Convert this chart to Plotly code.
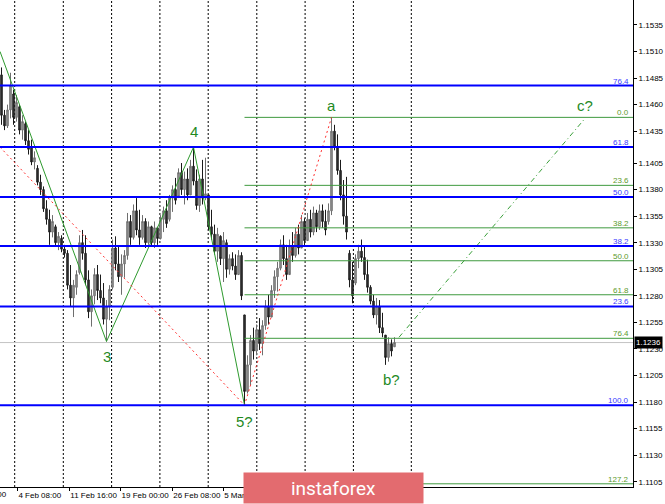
import plotly.graph_objects as go

# H4 bars (oldest first)
bar_open = [
    1.1488, 1.1450, 1.1440, 1.1455, 1.1470, 1.1448, 1.1458, 1.1436, 1.1442, 1.1426,
    1.1420, 1.1406, 1.1400, 1.1387, 1.1380, 1.1362, 1.1352, 1.1340, 1.1345, 1.1330,
    1.1334, 1.1324, 1.1320, 1.1290, 1.1278, 1.1288, 1.1302, 1.1330, 1.1320, 1.1295,
    1.1265, 1.1280, 1.1300, 1.1285, 1.1278, 1.1258, 1.1270, 1.1288, 1.1325, 1.1310,
    1.1298, 1.1310, 1.1318, 1.1350, 1.1335, 1.1360, 1.1342, 1.1335, 1.1350, 1.1330,
    1.1345, 1.1330, 1.1344, 1.1334, 1.1352, 1.1360, 1.1352, 1.1372, 1.1380, 1.1374,
    1.1396, 1.1380, 1.1390, 1.1375, 1.1402, 1.1388, 1.1365, 1.1390, 1.1372, 1.1375,
    1.1345, 1.1338, 1.1322, 1.1336, 1.1315, 1.1330, 1.1305, 1.1315, 1.1308, 1.1300,
    1.1318, 1.1262, 1.1190, 1.1215, 1.1238, 1.1228, 1.1248, 1.1235, 1.1252, 1.1270,
    1.1260, 1.1285, 1.1298, 1.1306, 1.1328, 1.1315, 1.1300, 1.1326, 1.1318, 1.1338,
    1.1325, 1.1350, 1.1332, 1.1352, 1.1340, 1.1358, 1.1345, 1.1360, 1.1350, 1.1350,
    1.1360, 1.1435, 1.1420, 1.1398, 1.1375, 1.1355, 1.1320, 1.1295, 1.1292, 1.1315,
    1.1322, 1.1316, 1.1300, 1.1288, 1.1275, 1.1262, 1.1270, 1.1250, 1.1243, 1.1222,
    1.1235, 1.1232,
]
bar_high = [
    1.1495, 1.1455, 1.1460, 1.1490, 1.1474, 1.1469, 1.1460, 1.1450, 1.1444, 1.1436,
    1.1427, 1.1416, 1.1403, 1.1394, 1.1383, 1.1370, 1.1361, 1.1356, 1.1347, 1.1340,
    1.1337, 1.1328, 1.1323, 1.1309, 1.1295, 1.1304, 1.1337, 1.1342, 1.1337, 1.1304,
    1.1286, 1.1306, 1.1309, 1.1300, 1.1292, 1.1276, 1.1290, 1.1333, 1.1336, 1.1326,
    1.1319, 1.1323, 1.1358, 1.1356, 1.1366, 1.1372, 1.1361, 1.1356, 1.1353, 1.1350,
    1.1346, 1.1350, 1.1345, 1.1356, 1.1364, 1.1370, 1.1375, 1.1384, 1.1391, 1.1400,
    1.1405, 1.1397, 1.1400, 1.1408, 1.1420, 1.1399, 1.1394, 1.1408, 1.1410, 1.1375,
    1.1361, 1.1347, 1.1344, 1.1337, 1.1340, 1.1333, 1.1319, 1.1321, 1.1319, 1.1323,
    1.1321, 1.1262, 1.1224, 1.1243, 1.1250, 1.1253, 1.1259, 1.1257, 1.1276, 1.1281,
    1.1290, 1.1304, 1.1312, 1.1333, 1.1337, 1.1328, 1.1333, 1.1340, 1.1344, 1.1347,
    1.1356, 1.1353, 1.1358, 1.1361, 1.1364, 1.1361, 1.1366, 1.1366, 1.1361, 1.1367,
    1.1448, 1.1441, 1.1432, 1.1408, 1.1389, 1.1392, 1.1323, 1.1312, 1.1319, 1.1328,
    1.1333, 1.1326, 1.1314, 1.1290, 1.1281, 1.1278, 1.1276, 1.1264, 1.1243, 1.1241,
    1.1239, 1.1241,
]
bar_low = [
    1.1441, 1.1436, 1.1438, 1.1447, 1.1441, 1.1444, 1.1432, 1.1427, 1.1422, 1.1413,
    1.1403, 1.1399, 1.1384, 1.1375, 1.1359, 1.1347, 1.1328, 1.1335, 1.1326, 1.1323,
    1.1321, 1.1316, 1.1286, 1.1270, 1.1260, 1.1281, 1.1300, 1.1314, 1.1290, 1.1259,
    1.1251, 1.1272, 1.1276, 1.1273, 1.1253, 1.1237, 1.1257, 1.1286, 1.1304, 1.1293,
    1.1281, 1.1297, 1.1314, 1.1328, 1.1333, 1.1337, 1.1328, 1.1333, 1.1325, 1.1328,
    1.1326, 1.1325, 1.1328, 1.1333, 1.1340, 1.1344, 1.1350, 1.1359, 1.1366, 1.1372,
    1.1375, 1.1366, 1.1370, 1.1375, 1.1384, 1.1361, 1.1359, 1.1366, 1.1370, 1.1342,
    1.1333, 1.1319, 1.1312, 1.1309, 1.1293, 1.1297, 1.1300, 1.1304, 1.1295, 1.1300,
    1.1276, 1.1177, 1.1188, 1.1196, 1.1220, 1.1224, 1.1229, 1.1224, 1.1248, 1.1253,
    1.1262, 1.1278, 1.1284, 1.1304, 1.1309, 1.1295, 1.1303, 1.1312, 1.1316, 1.1319,
    1.1328, 1.1326, 1.1333, 1.1335, 1.1337, 1.1340, 1.1342, 1.1344, 1.1337, 1.1347,
    1.1356, 1.1417, 1.1394, 1.1370, 1.1347, 1.1333, 1.1288, 1.1273, 1.1290, 1.1306,
    1.1312, 1.1295, 1.1283, 1.1272, 1.1259, 1.1253, 1.1245, 1.1241, 1.1215, 1.1218,
    1.1223, 1.1232,
]
bar_close = [
    1.1450, 1.1440, 1.1455, 1.1478, 1.1448, 1.1462, 1.1436, 1.1444, 1.1426, 1.1418,
    1.1406, 1.1410, 1.1387, 1.1380, 1.1362, 1.1352, 1.1340, 1.1350, 1.1330, 1.1336,
    1.1324, 1.1320, 1.1290, 1.1278, 1.1290, 1.1300, 1.1330, 1.1320, 1.1295, 1.1265,
    1.1280, 1.1300, 1.1285, 1.1278, 1.1258, 1.1270, 1.1286, 1.1325, 1.1310, 1.1298,
    1.1310, 1.1318, 1.1350, 1.1335, 1.1360, 1.1342, 1.1335, 1.1350, 1.1330, 1.1345,
    1.1330, 1.1344, 1.1334, 1.1352, 1.1360, 1.1348, 1.1372, 1.1380, 1.1370, 1.1396,
    1.1380, 1.1390, 1.1375, 1.1402, 1.1388, 1.1365, 1.1390, 1.1372, 1.1376, 1.1345,
    1.1338, 1.1322, 1.1338, 1.1315, 1.1332, 1.1305, 1.1315, 1.1308, 1.1300, 1.1318,
    1.1280, 1.1190, 1.1215, 1.1238, 1.1228, 1.1248, 1.1235, 1.1252, 1.1270, 1.1260,
    1.1285, 1.1298, 1.1306, 1.1328, 1.1315, 1.1300, 1.1326, 1.1318, 1.1338, 1.1325,
    1.1350, 1.1332, 1.1352, 1.1340, 1.1358, 1.1345, 1.1360, 1.1350, 1.1342, 1.1360,
    1.1435, 1.1420, 1.1398, 1.1375, 1.1355, 1.1340, 1.1295, 1.1280, 1.1315, 1.1322,
    1.1316, 1.1300, 1.1288, 1.1275, 1.1262, 1.1270, 1.1250, 1.1245, 1.1222, 1.1235,
    1.1228, 1.1236,
]
bar_x = list(range(len(bar_open)))
last_price = 1.1236

# price scale on the right
price_ticks = [1.1105, 1.1130, 1.1155, 1.1180, 1.1205, 1.1230, 1.1255, 1.1280, 1.1305,
               1.1330, 1.1355, 1.1380, 1.1405, 1.1435, 1.1460, 1.1485, 1.1510, 1.1535]

# time labels (bar position where each label starts)
time_tick_x = [5.3, 22.6, 39.7, 56.9, 73.9]
time_tick_text = ["4 Feb 08:00", "11 Feb 16:00", "19 Feb 00:00", "26 Feb 08:00",
                  "5 Mar 16:00"]
week_grid_x = [4.4, 20.6, 36.7, 52.8, 68.9, 85.1, 101.2, 117.3, 136.6]

# big fibo grid (blue) and the a-b retracement (green)
blue_fib_levels = ["23.6", "38.2", "50.0", "61.8", "76.4", "100.0"]
blue_fib_prices = [1.1270, 1.1327, 1.1373, 1.1420, 1.1478, 1.1177]
green_fib_levels = ["0.0", "23.6", "38.2", "50.0", "61.8", "76.4", "127.2"]
green_fib_prices = [1.1448, 1.1384, 1.1344, 1.1313, 1.1281, 1.1240, 1.1103]
green_fib_start = 81

# wave count
wave_x = [-0.5, 35, 64, 81]
wave_y = [1.1510, 1.1237, 1.1420, 1.1177]
red_x = [-0.5, 81, 110]
red_y = [1.1420, 1.1177, 1.1448]
proj_x = [132.5, 194.5]
proj_y = [1.1241, 1.1447]
wave_labels = ["2", "3", "4", "5?", "a", "b?", "c?"]
wave_label_x = [-1.2, 35, 64, 81, 110, 130, 194.5]
wave_label_y = [1.1529, 1.1223, 1.1435, 1.1162, 1.1459, 1.1201, 1.1459]

X_MAX = 210.5
Y_RANGE = [1.1100, 1.15585]
FONT = "Liberation Sans"

fig = go.Figure()

for gx in week_grid_x:
    fig.add_vline(x=gx, line=dict(color="black", width=1, dash="2px,2px"), layer="below")

fig.add_hline(y=last_price, line=dict(color="#c4c4c4", width=1), layer="below")

fig.add_trace(go.Candlestick(
    x=bar_x, open=bar_open, high=bar_high, low=bar_low, close=bar_close,
    increasing=dict(line=dict(color="#6e6e6e", width=1), fillcolor="#9a9a9a"),
    decreasing=dict(line=dict(color="#1a1a1a", width=1), fillcolor="#3a3a3a"),
    whiskerwidth=0, showlegend=False, hoverinfo="skip",
))

# green retracement lines
for lvl, p in zip(green_fib_levels, green_fib_prices):
    fig.add_trace(go.Scatter(
        x=[green_fib_start, X_MAX], y=[p, p], mode="lines",
        line=dict(color="#3f9a3f", width=1), showlegend=False, hoverinfo="skip"))
    fig.add_annotation(x=0.997, xref="paper", y=p, yref="y", text=lvl,
                       showarrow=False, xanchor="right", yanchor="bottom", yshift=-2,
                       font=dict(family=FONT, size=8, color="#5c9a2c"))

# blue fibo lines
for lvl, p in zip(blue_fib_levels, blue_fib_prices):
    fig.add_hline(y=p, line=dict(color="#0000ff", width=2), layer="above")
    fig.add_annotation(x=0.997, xref="paper", y=p, yref="y", text=lvl,
                       showarrow=False, xanchor="right", yanchor="bottom", yshift=-2,
                       font=dict(family=FONT, size=8, color="#3a3aff"))

fig.add_trace(go.Scatter(x=wave_x, y=wave_y, mode="lines",
                         line=dict(color="#2e9a2e", width=1),
                         showlegend=False, hoverinfo="skip"))
fig.add_trace(go.Scatter(x=red_x, y=red_y, mode="lines",
                         line=dict(color="#ff3030", width=1, dash="2px,3px"),
                         showlegend=False, hoverinfo="skip"))
fig.add_trace(go.Scatter(x=proj_x, y=proj_y, mode="lines",
                         line=dict(color="#3aa03a", width=1, dash="5px,3px,1px,3px"),
                         showlegend=False, hoverinfo="skip"))

for t, lx, ly in zip(wave_labels, wave_label_x, wave_label_y):
    fig.add_annotation(x=lx, y=ly, text=t, showarrow=False,
                       xanchor="center", yanchor="middle",
                       font=dict(family=FONT, size=15, color="#1f8a1f"))

# first time label, cut by the left edge
fig.add_annotation(x=8.5 / 633, xref="paper", y=-0.015, yref="paper",
                   text="28 Jan 00:00", showarrow=False, xanchor="right",
                   yanchor="middle", font=dict(family=FONT, size=8, color="black"))

# current price box
fig.add_annotation(x=1, xref="paper", y=last_price, yref="y", text=f"{last_price:.4f}",
                   showarrow=False, xanchor="left", yanchor="middle", xshift=1,
                   bgcolor="black", borderpad=1,
                   font=dict(family=FONT, size=8, color="white"))

# watermark
fig.add_annotation(x=0.5266, xref="paper", y=-0.0014, yref="paper", text="instaforex",
                   showarrow=False, xanchor="center", yanchor="middle",
                   width=177, height=28, bgcolor="#e36b6f",
                   font=dict(family="Roboto", size=19, color="white"))

fig.update_layout(
    width=665, height=504,
    margin=dict(l=0, r=32, t=0, b=17),
    plot_bgcolor="white", paper_bgcolor="white",
    showlegend=False,
    xaxis=dict(
        range=[-0.5, X_MAX], rangeslider=dict(visible=False),
        showgrid=False, zeroline=False,
        showline=True, linecolor="black", linewidth=1,
        tickmode="array", tickvals=time_tick_x, ticktext=time_tick_text,
        ticks="outside", ticklen=3, tickcolor="black", tickangle=0,
        ticklabelposition="outside right",
        tickfont=dict(family=FONT, size=8, color="black"),
    ),
    yaxis=dict(
        range=Y_RANGE, side="right",
        showgrid=False, zeroline=False,
        showline=True, linecolor="black", linewidth=1,
        tickmode="array", tickvals=price_ticks,
        ticktext=[f"{v:.4f}" for v in price_ticks],
        ticks="outside", ticklen=3, tickcolor="black",
        tickfont=dict(family=FONT, size=8, color="black"),
    ),
)

fig.write_html(
    "out.html",
    config={"displayModeBar": False},
    post_script="document.body.style.margin='0';document.body.style.overflow='hidden';",
)
